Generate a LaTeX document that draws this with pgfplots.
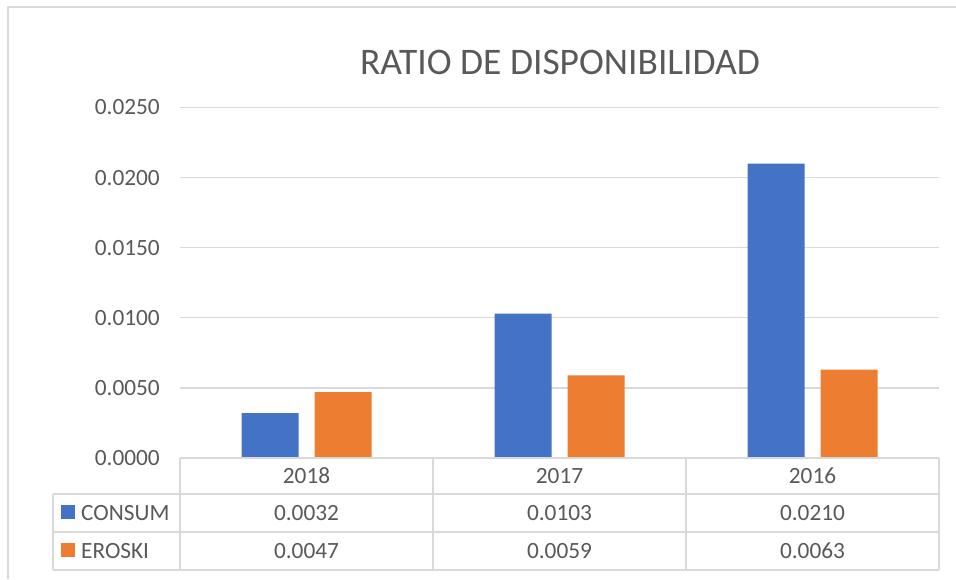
\documentclass[border=0pt]{standalone}
\usepackage{pgfplots}
\pgfplotsset{compat=1.18}
\usepackage{fontspec}
\setmainfont{Carlito}
\definecolor{cblue}{HTML}{4472C4}
\definecolor{corange}{HTML}{ED7D31}
\definecolor{gridc}{HTML}{D9D9D9}
\definecolor{txt}{HTML}{595959}
\newcommand{\tf}{\fontsize{23.3}{28}\selectfont}
\begin{document}
\begin{tikzpicture}[x=1pt,y=1pt]
\path[use as bounding box] (0,0) rectangle (956,-579);
\draw[gridc,line width=1.5pt] (8,-579) -- (8,-7) -- (956,-7);
\begin{axis}[
  at={(180pt,-458pt)}, anchor=south west,
  scale only axis, width=759pt, height=350.5pt,
  xmin=-0.5, xmax=2.5, ymin=0, ymax=0.025,
  ybar=16pt, bar width=57pt,
  axis line style={draw=none}, major tick style={draw=none},
  xtick=\empty, scaled y ticks=false,
  ytick={0,0.005,0.01,0.015,0.02,0.025},
  yticklabels={0.0000,0.0050,0.0100,0.0150,0.0200,0.0250},
  yticklabel style={font=\tf, text=txt, anchor=east, inner sep=0pt, xshift=-20pt},
  ymajorgrids, grid style={gridc, line width=1.3pt},
]
\addplot[fill=cblue, draw=none] coordinates {(0,0.0032) (1,0.0103) (2,0.0210)};
\addplot[fill=corange, draw=none] coordinates {(0,0.0047) (1,0.0059) (2,0.0063)};
\end{axis}
\begin{scope}[gridc, line width=1.3pt]
\draw (180,-458) -- (939,-458);
\draw (53,-494) -- (939,-494);
\draw (53,-532) -- (939,-532);
\draw (53,-570) -- (939,-570);
\draw (53,-494) -- (53,-570);
\draw (180,-458) -- (180,-570);
\draw (433,-458) -- (433,-570);
\draw (686,-458) -- (686,-570);
\draw (939,-458) -- (939,-570);
\end{scope}
\node[text=txt, font=\fontsize{37.5}{45}\selectfont, anchor=base] at (560,-74) {RATIO DE DISPONIBILIDAD};
\begin{scope}[every node/.style={text=txt, font=\tf, anchor=base, inner sep=0pt}]
\node at (306.5,-483.5) {2018};
\node at (559.5,-483.5) {2017};
\node at (812.5,-483.5) {2016};
\node at (306.5,-520.5) {0.0032};
\node at (559.5,-520.5) {0.0103};
\node at (812.5,-520.5) {0.0210};
\node at (306.5,-558.5) {0.0047};
\node at (559.5,-558.5) {0.0059};
\node at (812.5,-558.5) {0.0063};
\node[anchor=base west] at (81,-520.5) {CONSUM};
\node[anchor=base west] at (81,-558.5) {EROSKI};
\end{scope}
\fill[cblue] (61,-505) rectangle (75,-519);
\fill[corange] (61,-543) rectangle (75,-557);
\end{tikzpicture}
\end{document}
